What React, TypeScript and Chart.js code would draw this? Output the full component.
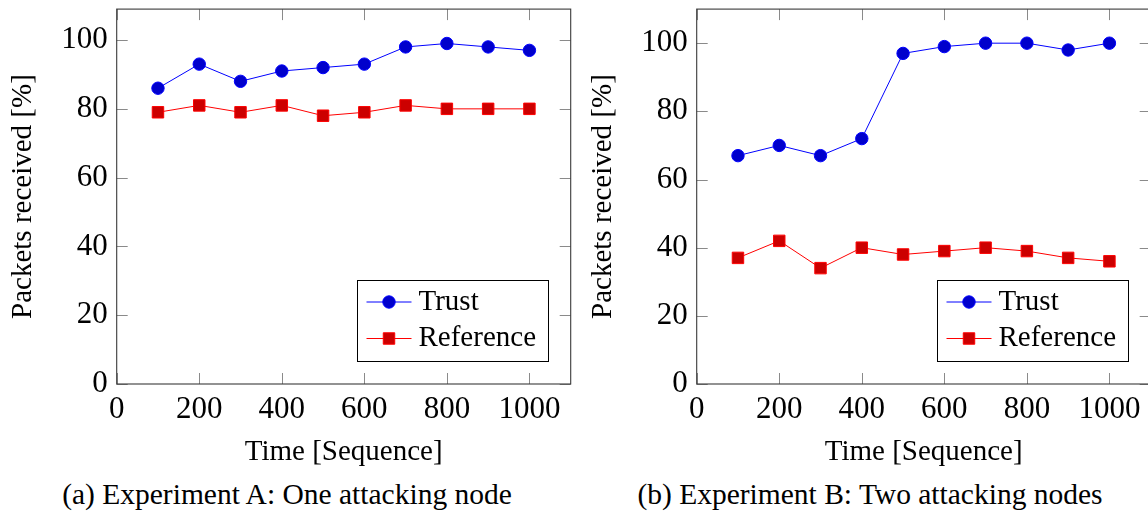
import React, { useEffect, useRef } from 'react';
import { Chart, registerables } from 'chart.js';

Chart.register(...registerables);

// ---------------- data ----------------
const xValues = [100, 200, 300, 400, 500, 600, 700, 800, 900, 1000];
const trustA = [86, 93, 88, 91, 92, 93, 98, 99, 98, 97];
const referenceA = [79, 81, 79, 81, 78, 79, 81, 80, 80, 80];
const trustB = [67, 70, 67, 72, 97, 99, 100, 100, 98, 100];
const referenceB = [37, 42, 34, 40, 38, 39, 40, 39, 37, 36];
const xTickValues = [0, 200, 400, 600, 800, 1000];
const yTickValues = [0, 20, 40, 60, 80, 100];
const seriesNames = ['Trust', 'Reference'];
const xAxisTitle = 'Time [Sequence]';
const yAxisTitle = 'Packets received [%]';
const captions = ['(a) Experiment A: One attacking node', '(b) Experiment B: Two attacking nodes'];
const xMin = 0;
const xMax = 1100;
const yMin = 0;
const yMaxA = 109;
const yMaxB = 110;

const FONT_FAMILY = '"Liberation Serif", "DejaVu Serif", serif';
const TICK_SIZE = 31;
const TITLE_SIZE = 29;
const LEGEND_SIZE = 29;
const CAPTION_SIZE = 29.5;

const framePlugin = {
  id: 'pgfFrame',
  afterDatasetsDraw(chart: any) {
    const { ctx, chartArea: a, scales } = chart;
    const x = scales.x;
    const y = scales.y;
    const L = 11;
    ctx.save();
    // inward ticks on all four sides
    ctx.strokeStyle = '#8a8a8a';
    ctx.lineWidth = 1;
    ctx.beginPath();
    for (const v of xTickValues) {
      const px = Math.round(x.getPixelForValue(v)) + 0.5;
      ctx.moveTo(px, a.bottom);
      ctx.lineTo(px, a.bottom - L);
      ctx.moveTo(px, a.top);
      ctx.lineTo(px, a.top + L);
    }
    for (const v of yTickValues) {
      const py = Math.round(y.getPixelForValue(v)) + 0.5;
      ctx.moveTo(a.left, py);
      ctx.lineTo(a.left + L, py);
      ctx.moveTo(a.right, py);
      ctx.lineTo(a.right - L, py);
    }
    ctx.stroke();
    // frame
    ctx.strokeStyle = '#3a3a3a';
    ctx.lineWidth = 1.1;
    ctx.strokeRect(a.left, a.top, a.right - a.left, a.bottom - a.top);

    // legend box
    const w = 191;
    const h = 81;
    const bx = Math.round(a.right - 22.7 - w) + 0.5;
    const by = Math.round(a.bottom - 23 - h) + 0.5;
    ctx.fillStyle = '#ffffff';
    ctx.fillRect(bx, by, w, h);
    ctx.strokeStyle = '#000000';
    ctx.lineWidth = 1;
    ctx.strokeRect(bx, by, w, h);
    chart.data.datasets.forEach((ds: any, i: number) => {
      const cy = by + 21.5 + i * 36.5;
      ctx.strokeStyle = ds.borderColor;
      ctx.lineWidth = ds.borderWidth;
      ctx.beginPath();
      ctx.moveTo(bx + 9, cy);
      ctx.lineTo(bx + 54, cy);
      ctx.stroke();
      const mx = bx + 31.5;
      ctx.fillStyle = ds.pointBackgroundColor;
      ctx.strokeStyle = ds.pointBorderColor;
      ctx.lineWidth = 1;
      ctx.beginPath();
      if (ds.pointStyle === 'rect') {
        const s = ds.pointRadius * Math.SQRT1_2;
        ctx.rect(mx - s, cy - s, 2 * s, 2 * s);
      } else {
        ctx.arc(mx, cy, ds.pointRadius, 0, Math.PI * 2);
      }
      ctx.fill();
      ctx.stroke();
      ctx.fillStyle = '#000000';
      ctx.font = `${LEGEND_SIZE}px ${FONT_FAMILY}`;
      ctx.textAlign = 'left';
      ctx.textBaseline = 'middle';
      ctx.fillText(ds.label, bx + 61, cy);
    });
    ctx.restore();
  },
};

function makeConfig(trust: number[], reference: number[], yMax: number): any {
  const tickFont = { family: FONT_FAMILY, size: TICK_SIZE };
  const titleFont = { family: FONT_FAMILY, size: TITLE_SIZE };
  return {
    type: 'line',
    data: {
      datasets: [
        {
          label: seriesNames[0],
          data: xValues.map((x, i) => ({ x, y: trust[i] })),
          borderColor: '#0000ff',
          borderWidth: 1,
          pointStyle: 'circle',
          pointRadius: 6.2,
          pointBackgroundColor: '#0000cc',
          pointBorderColor: '#0000ff',
          pointBorderWidth: 1,
          tension: 0,
        },
        {
          label: seriesNames[1],
          data: xValues.map((x, i) => ({ x, y: reference[i] })),
          borderColor: '#ff0000',
          borderWidth: 1,
          pointStyle: 'rect',
          pointRadius: 8.1,
          pointBackgroundColor: '#cc0000',
          pointBorderColor: '#ff0000',
          pointBorderWidth: 1,
          tension: 0,
        },
      ],
    },
    options: {
      responsive: false,
      animation: false,
      layout: { padding: { top: 9, right: 9.3, left: 0, bottom: 0 } },
      plugins: { legend: { display: false }, tooltip: { enabled: false } },
      scales: {
        x: {
          type: 'linear',
          min: xMin,
          max: xMax,
          afterBuildTicks: (s: any) => {
            s.ticks = xTickValues.map((v) => ({ value: v }));
          },
          afterFit: (s: any) => {
            s.height = 86;
            s.paddingLeft = 0;
            s.paddingRight = 0;
            s.paddingTop = 0;
            s.paddingBottom = 0;
          },
          grid: { display: false, drawTicks: false },
          border: { display: false },
          ticks: {
            font: tickFont,
            color: '#000000',
            padding: 7,
            maxRotation: 0,
            autoSkip: false,
            callback: (v: any) => String(v),
          },
          title: {
            display: true,
            text: xAxisTitle,
            font: titleFont,
            color: '#000000',
            padding: { top: 0, bottom: 0 },
          },
        },
        y: {
          type: 'linear',
          min: yMin,
          max: yMax,
          afterBuildTicks: (s: any) => {
            s.ticks = yTickValues.map((v) => ({ value: v }));
          },
          afterFit: (s: any) => {
            s.width = 116.7;
            s.paddingLeft = 0;
            s.paddingRight = 0;
            s.paddingTop = 0;
            s.paddingBottom = 0;
          },
          grid: { display: false, drawTicks: false },
          border: { display: false },
          ticks: {
            font: tickFont,
            color: '#000000',
            padding: 9,
            autoSkip: false,
            callback: (v: any) => String(v),
          },
          title: {
            display: true,
            text: yAxisTitle,
            font: titleFont,
            color: '#000000',
            padding: { top: 6.1, bottom: 0 },
          },
        },
      },
    },
    plugins: [framePlugin],
  };
}

function PlotCanvas(props: { trust: number[]; reference: number[]; yMax: number; left: number }) {
  const ref = useRef<HTMLCanvasElement | null>(null);
  useEffect(() => {
    if (!ref.current) return;
    const chart = new Chart(ref.current, makeConfig(props.trust, props.reference, props.yMax));
    return () => chart.destroy();
  }, []);
  return (
    <canvas
      ref={ref}
      width={580}
      height={470}
      style={{ position: 'absolute', left: props.left, top: 0, width: 580, height: 470 }}
    />
  );
}

export default function App() {
  const captionStyle: React.CSSProperties = {
    position: 'absolute',
    top: 480,
    fontFamily: FONT_FAMILY,
    fontSize: CAPTION_SIZE,
    lineHeight: `${CAPTION_SIZE}px`,
    color: '#000',
    textAlign: 'center',
    whiteSpace: 'nowrap',
  };
  return (
    <div
      style={{
        position: 'absolute',
        left: 0,
        top: 0,
        width: 1148,
        height: 516,
        overflow: 'hidden',
        background: '#ffffff',
      }}
    >
      <PlotCanvas trust={trustA} reference={referenceA} yMax={yMaxA} left={0} />
      <PlotCanvas trust={trustB} reference={referenceB} yMax={yMaxB} left={580} />
      <div style={{ ...captionStyle, left: 0, width: 574 }}>{captions[0]}</div>
      <div style={{ ...captionStyle, left: 580, width: 580 }}>{captions[1]}</div>
    </div>
  );
}
